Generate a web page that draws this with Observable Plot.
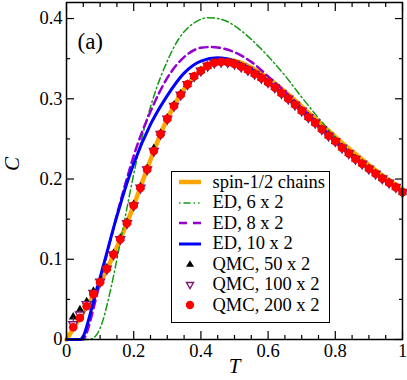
<!DOCTYPE html>
<html><head><meta charset="utf-8">
<script src="https://cdn.jsdelivr.net/npm/d3@7"></script>
<script src="https://cdn.jsdelivr.net/npm/@observablehq/plot@0.6"></script>
<style>
body{margin:0;background:#fff;}
#wrap{position:relative;width:407px;height:380px;font-family:"Liberation Serif","Times New Roman",serif;}
#legend{position:absolute;left:171px;top:171px;width:157px;height:150px;border:1.5px solid #000;background:#fff;padding-top:0px;box-sizing:content-box}
.row{height:20.5px;display:flex;align-items:center;font-size:18.5px;white-space:nowrap;color:#000}
.row svg{margin-left:5.5px;margin-right:11px;flex:none}
</style></head>
<body><div id="wrap"></div>
<script>
// ---- data ----
const xTicks = [0, 0.2, 0.4, 0.6, 0.8, 1];
const xTickLabels = ["0", "0.2", "0.4", "0.6", "0.8", "1"];
const xMinor = [0.05,0.1,0.15,0.25,0.3,0.35,0.45,0.5,0.55,0.65,0.7,0.75,0.85,0.9,0.95];
const yTicks = [0, 0.1, 0.2, 0.3, 0.4];
const yTickLabels = ["0", "0.1", "0.2", "0.3", "0.4"];
const yMinor = [0.05, 0.15, 0.25, 0.35];

// spin-1/2 chains
const chainT = [0,0.05,0.1,0.15,0.2,0.25,0.3,0.35,0.4,0.45,0.5,0.55,0.6,0.65,0.7,0.75,0.8,0.85,0.9,0.95,1.0];
const chainC = [0,0.034,0.070,0.115,0.167,0.224,0.275,0.312,0.336,0.3475,0.3475,0.339,0.3255,0.309,0.2905,0.2715,0.2525,0.2345,0.2175,0.2015,0.187];
// ED 6 x 2
const ed6T = [0,0.07,0.08,0.09,0.1,0.11,0.12,0.13,0.14,0.15,0.16,0.18,0.2,0.22,0.25,0.28,0.3,0.33,0.36,0.39,0.42,0.45,0.48,0.51,0.55,0.6,0.65,0.7,0.75,0.8,0.85,0.9,0.95,1.0];
const ed6C = [0,0,0.002,0.006,0.014,0.026,0.042,0.060,0.079,0.100,0.121,0.164,0.206,0.244,0.290,0.327,0.347,0.372,0.388,0.397,0.401,0.400,0.396,0.388,0.374,0.353,0.329,0.302,0.276,0.252,0.232,0.214,0.199,0.186];
// ED 8 x 2
const ed8T = [0,0.05,0.06,0.07,0.08,0.09,0.1,0.12,0.14,0.16,0.18,0.2,0.25,0.3,0.35,0.4,0.43,0.45,0.5,0.55,0.6,0.65,0.7,0.75,0.8,0.85,0.9,0.95,1.0];
const ed8C = [0,0,0.008,0.022,0.038,0.055,0.072,0.106,0.139,0.171,0.201,0.229,0.284,0.326,0.352,0.3635,0.3645,0.364,0.358,0.346,0.328,0.309,0.289,0.269,0.249,0.231,0.214,0.199,0.185];
// ED 10 x 2
const ed10T = [0,0.04,0.05,0.06,0.07,0.08,0.09,0.1,0.12,0.14,0.16,0.18,0.2,0.25,0.3,0.35,0.4,0.45,0.5,0.55,0.6,0.65,0.7,0.75,0.8,0.85,0.9,0.95,1.0];
const ed10C = [0,0,0.004,0.016,0.031,0.047,0.062,0.077,0.108,0.139,0.168,0.195,0.219,0.268,0.304,0.332,0.347,0.351,0.347,0.337,0.322,0.304,0.2855,0.266,0.247,0.2295,0.213,0.198,0.184];
// QMC temperatures
const qmcT = [0.02,0.04,0.06,0.08,0.10,0.12,0.14,0.16,0.18,0.20,0.22,0.24,0.26,0.28,0.30,0.32,0.34,0.36,0.38,0.40,0.42,0.44,0.46,0.48,0.50,0.52,0.54,0.56,0.58,0.60,0.62,0.64,0.66,0.68,0.70,0.72,0.74,0.76,0.78,0.80,0.82,0.84,0.86,0.88,0.90,0.92,0.94,0.96,0.98,1.00];
// QMC 50 x 2
const qmc50C = [0.028,0.037,0.047,0.060,0.073,0.089,0.107,0.126,0.146,0.168,0.190,0.213,0.238,0.257,0.276,0.292,0.306,0.318,0.328,0.335,0.341,0.345,0.346,0.3455,0.3435,0.340,0.336,0.331,0.326,0.3205,0.314,0.307,0.300,0.2925,0.285,0.277,0.270,0.262,0.254,0.247,0.239,0.232,0.225,0.219,0.2128,0.2066,0.2007,0.1954,0.1899,0.1837];
// QMC 100 x 2
const qmc100C = [0.019,0.031,0.044,0.058,0.072,0.088,0.106,0.125,0.145,0.167,0.189,0.212,0.235,0.256,0.275,0.291,0.305,0.318,0.328,0.335,0.341,0.345,0.346,0.3455,0.3435,0.340,0.336,0.331,0.326,0.3205,0.314,0.307,0.300,0.2925,0.285,0.277,0.270,0.262,0.254,0.247,0.239,0.232,0.225,0.219,0.2128,0.2066,0.2007,0.1954,0.1899,0.1837];
const qmc100Err = [0.008,0.005,0.003,0.002,0.002,0.002,0.002,0.002,0.002,0.002,0.002,0.002,0.002,0.002,0.002,0.002,0.002,0.002,0.002,0.002,0.002,0.002,0.002,0.002,0.002,0.002,0.002,0.002,0.002,0.002,0.002,0.002,0.002,0.002,0.002,0.002,0.002,0.002,0.002,0.002,0.002,0.002,0.002,0.002,0.002,0.002,0.002,0.002,0.002,0.002];
// QMC 200 x 2
const qmc200C = [0.0153,0.027,0.0415,0.0565,0.0715,0.088,0.106,0.125,0.145,0.167,0.189,0.212,0.235,0.256,0.275,0.291,0.305,0.318,0.328,0.335,0.341,0.345,0.346,0.3455,0.3435,0.340,0.336,0.331,0.326,0.3205,0.314,0.307,0.300,0.2925,0.285,0.277,0.270,0.262,0.254,0.247,0.239,0.232,0.225,0.219,0.2128,0.2066,0.2007,0.1954,0.1899,0.1837];
const qmc200Err = 0.004;

const legendLabels = ["spin-1/2 chains","ED, 6 x 2","ED, 8 x 2","ED, 10 x 2","QMC, 50 x 2","QMC, 100 x 2","QMC, 200 x 2"];

// ---- styles ----
const cOrange = "#ffa500", cGreen = "#139a13", cPurple = "#9400d3", cBlue = "#0000ff", cDark = "#7a1a6e", cRed = "#ff0000";

const zipTC = (T, C) => T.map((t, i) => ({T: t, C: C[i]}));
const chain = zipTC(chainT, chainC), ed6 = zipTC(ed6T, ed6C), ed8 = zipTC(ed8T, ed8C), ed10 = zipTC(ed10T, ed10C);
const q50 = zipTC(qmcT, qmc50C);
const q100 = qmcT.map((t, i) => ({T: t, C: qmc100C[i], e: qmc100Err[i]}));
const q200 = zipTC(qmcT, qmc200C);

const fmt = (ticks, labels) => d => labels[ticks.findIndex(t => Math.abs(t - d) < 1e-9)];

const chart = Plot.plot({
  width: 407, height: 380,
  marginLeft: 66, marginRight: 5, marginTop: 2, marginBottom: 41,
  style: {fontFamily: "'Liberation Serif', 'Times New Roman', serif", fontSize: "18.5px", background: "transparent", overflow: "visible", color: "#000"},
  x: {domain: [0, 1]},
  y: {domain: [0, 0.42]},
  marks: [
    Plot.line(chain, {x: "T", y: "C", stroke: cOrange, strokeWidth: 4.5, curve: "catmull-rom"}),
    Plot.line(ed6, {x: "T", y: "C", stroke: cGreen, strokeWidth: 1.5, strokeDasharray: "7,3,1.5,3", curve: "monotone-x"}),
    Plot.line(ed8, {x: "T", y: "C", stroke: cPurple, strokeWidth: 2.5, strokeDasharray: "8,4.5", curve: "monotone-x"}),
    Plot.line(ed10, {x: "T", y: "C", stroke: cBlue, strokeWidth: 3, curve: "monotone-x"}),
    Plot.dot(q50, {x: "T", y: "C", symbol: "triangle", r: 3.3, fill: "#000", stroke: "none"}),
    Plot.ruleX(q100, {x: "T", y1: d => d.C - d.e, y2: d => d.C + d.e, stroke: cDark, strokeWidth: 1.2}),
    Plot.dot(q100, {x: "T", y: "C", symbol: "triangle", rotate: 180, r: 3.3, fill: "#fff", stroke: cDark, strokeWidth: 1.4}),
    Plot.ruleX(q200, {x: "T", y1: d => d.C - qmc200Err, y2: d => d.C + qmc200Err, stroke: cRed, strokeWidth: 1.5}),
    Plot.dot(q200, {x: "T", y: "C", r: 4.3, fill: cRed, stroke: "none"}),
    Plot.frame({stroke: "#000", strokeWidth: 1.5}),
    // tick labels
    Plot.axisX(xTicks, {anchor: "bottom", tickSize: 0, tickPadding: 4, tickFormat: fmt(xTicks, xTickLabels), label: null}),
    Plot.axisY(yTicks, {anchor: "left", tickSize: 0, tickPadding: 4, tickFormat: fmt(yTicks, yTickLabels), label: null}),
    // inward ticks on all four sides
    Plot.axisX(xTicks, {anchor: "bottom", tickSize: -8, fill: "none", strokeWidth: 1.2, label: null}),
    Plot.axisX(xMinor, {anchor: "bottom", tickSize: -4, fill: "none", strokeWidth: 1.2, label: null}),
    Plot.axisX(xTicks, {anchor: "top", tickSize: -8, fill: "none", strokeWidth: 1.2, label: null}),
    Plot.axisX(xMinor, {anchor: "top", tickSize: -4, fill: "none", strokeWidth: 1.2, label: null}),
    Plot.axisY(yTicks, {anchor: "left", tickSize: -8, fill: "none", strokeWidth: 1.2, label: null}),
    Plot.axisY(yMinor, {anchor: "left", tickSize: -4, fill: "none", strokeWidth: 1.2, label: null}),
    Plot.axisY(yTicks, {anchor: "right", tickSize: -8, fill: "none", strokeWidth: 1.2, label: null}),
    Plot.axisY(yMinor, {anchor: "right", tickSize: -4, fill: "none", strokeWidth: 1.2, label: null}),
    // axis titles and panel label
    Plot.text(["T"], {text: d => d, frameAnchor: "bottom", dy: 33, fontStyle: "italic", fontSize: 21}),
    Plot.text(["C"], {text: d => d, frameAnchor: "left", dx: -54, rotate: -90, fontStyle: "italic", fontSize: 21}),
    Plot.text(["(a)"], {text: d => d, frameAnchor: "top-left", dx: 11, dy: 30, textAnchor: "start", fontSize: 23})
  ]
});

const wrap = document.getElementById("wrap");
wrap.appendChild(chart);

// legend overlay
const sw = [
  `<line x1="1" y1="10" x2="23" y2="10" stroke="${cOrange}" stroke-width="4.5"/>`,
  `<line x1="1" y1="10" x2="23" y2="10" stroke="${cGreen}" stroke-width="1.5" stroke-dasharray="1.5,3,7,3,1.5,3"/>`,
  `<line x1="1" y1="10" x2="23" y2="10" stroke="${cPurple}" stroke-width="2.5" stroke-dasharray="8,6"/>`,
  `<line x1="1" y1="10" x2="23" y2="10" stroke="${cBlue}" stroke-width="3"/>`,
  `<path d="M12,6.2 L16,12.8 L8,12.8 Z" fill="#000"/>`,
  `<path d="M8.5,7.5 L15.5,7.5 L12,13.5 Z" fill="#fff" stroke="${cDark}" stroke-width="1.4"/>`,
  `<circle cx="12" cy="10" r="4.2" fill="${cRed}"/>`
];
const leg = document.createElement("div");
leg.id = "legend";
leg.innerHTML = legendLabels.map((l, i) =>
  `<div class="row"><svg width="24" height="20" viewBox="0 0 24 20">${sw[i]}</svg><span>${l}</span></div>`).join("");
wrap.appendChild(leg);
</script>
</body></html>
